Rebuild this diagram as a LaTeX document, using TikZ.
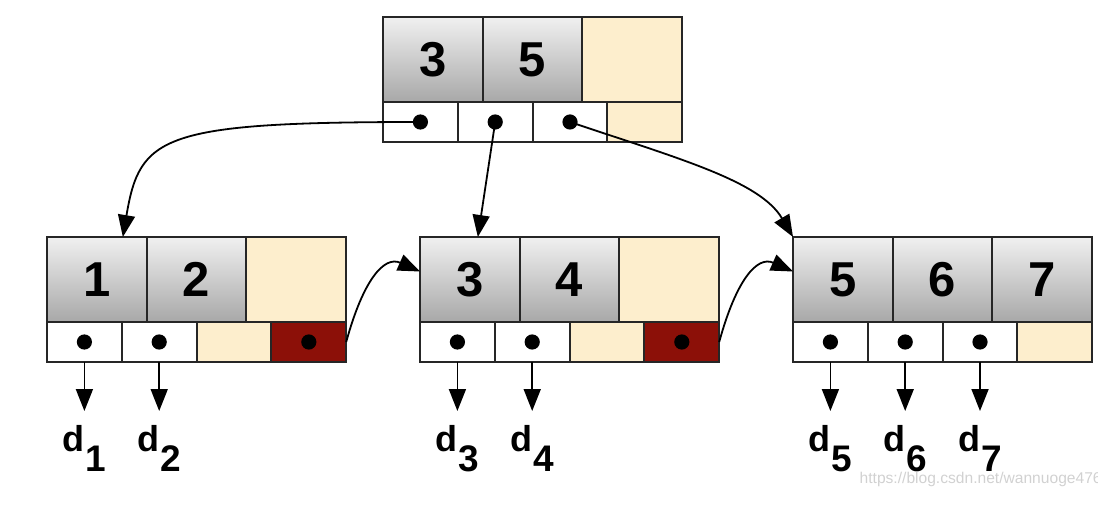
\documentclass[tikz,border=0pt]{standalone}
\usepackage{fontspec}
\setmainfont{Liberation Sans}
\usetikzlibrary{arrows.meta, positioning}

\definecolor{cellcream}{RGB}{253,238,205}
\definecolor{cellred}{RGB}{140,16,8}
\definecolor{shadetop}{RGB}{240,240,240}
\definecolor{shadebot}{RGB}{168,168,168}

\begin{document}
\begin{tikzpicture}[
    x=0.5pt, y=-0.5pt,
    every node/.style={outer sep=0pt},
    cellbase/.style={draw=black!85, line width=1pt, inner sep=0pt},
    keycell/.style={cellbase, minimum width=49.85pt, minimum height=42.5pt,
        top color=shadetop, bottom color=shadebot,
        font=\bfseries\fontsize{24.5}{24.5}\selectfont},
    emptykey/.style={cellbase, minimum width=49.85pt, minimum height=42.5pt, fill=cellcream},
    ptrcell/.style={cellbase, minimum width=37.4pt, minimum height=20pt, fill=white},
    emptyptr/.style={ptrcell, fill=cellcream},
    nextptr/.style={ptrcell, fill=cellred},
    dot/.style={circle, fill=black, inner sep=0pt, minimum size=7.6pt},
    ptr/.style={-{Triangle[length=11pt, width=8.5pt]}, line width=0.9pt},
    dlabel/.style={inner xsep=0pt, inner ysep=7pt, font=\bfseries\fontsize{18}{18}\selectfont}
]
\useasboundingbox (0,0) rectangle (1098,513);

% root: keys 3 5
\node[keycell] (r-k1) at (432.85,59.5) {3};
\node[keycell, right=0pt of r-k1] (r-k2) {5};
\node[emptykey, right=0pt of r-k2] (r-k3) {};
\node[ptrcell, anchor=north west] (r-p1) at (r-k1.south west) {};
\node[ptrcell, right=0pt of r-p1] (r-p2) {};
\node[ptrcell, right=0pt of r-p2] (r-p3) {};
\node[emptyptr, right=0pt of r-p3] (r-p4) {};

% leaf 1 2
\node[keycell] (a-k1) at (96.85,279.5) {1};
\node[keycell, right=0pt of a-k1] (a-k2) {2};
\node[emptykey, right=0pt of a-k2] (a-k3) {};
\node[ptrcell, anchor=north west] (a-p1) at (a-k1.south west) {};
\node[ptrcell, right=0pt of a-p1] (a-p2) {};
\node[emptyptr, right=0pt of a-p2] (a-p3) {};
\node[nextptr, right=0pt of a-p3] (a-p4) {};

% leaf 3 4
\node[keycell] (b-k1) at (469.85,279.5) {3};
\node[keycell, right=0pt of b-k1] (b-k2) {4};
\node[emptykey, right=0pt of b-k2] (b-k3) {};
\node[ptrcell, anchor=north west] (b-p1) at (b-k1.south west) {};
\node[ptrcell, right=0pt of b-p1] (b-p2) {};
\node[emptyptr, right=0pt of b-p2] (b-p3) {};
\node[nextptr, right=0pt of b-p3] (b-p4) {};

% leaf 5 6 7
\node[keycell] (c-k1) at (842.85,279.5) {5};
\node[keycell, right=0pt of c-k1] (c-k2) {6};
\node[keycell, right=0pt of c-k2] (c-k3) {7};
\node[ptrcell, anchor=north west] (c-p1) at (c-k1.south west) {};
\node[ptrcell, right=0pt of c-p1] (c-p2) {};
\node[ptrcell, right=0pt of c-p2] (c-p3) {};
\node[emptyptr, right=0pt of c-p3] (c-p4) {};

% pointer dots
\foreach \n in {r-p1,r-p2,r-p3,a-p1,a-p2,a-p4,b-p1,b-p2,b-p4,c-p1,c-p2,c-p3}
  \node[dot] (\n-dot) at (\n) {};

% data labels
\foreach \n/\i in {a-p1/1,a-p2/2,b-p1/3,b-p2/4,c-p1/5,c-p2/6,c-p3/7} {
  \node[dlabel, below=24.5pt of \n] (d\i)
    {d\kern0.5pt\raisebox{-10pt}{\fontsize{18.5}{18.5}\selectfont\i}};
  \draw[ptr] (\n.south) -- (d\i.north);
}

% root to leaves
\draw[ptr] (r-p1-dot.center) .. controls +(-260,0) and +(17,-101) .. ([xshift=13pt]a-k1.north);
\draw[ptr] (r-p2-dot.center) -- ([xshift=4pt]b-k1.north);
\draw[ptr] (r-p3-dot.center) .. controls +(110,37) and +(-33,-56) .. (c-k1.north west);

% leaf links
\draw[ptr] (a-p4.east) .. controls +(17,-62) and +(-36,-16) .. ([yshift=4pt]b-k1.west);
\draw[ptr] (b-p4.east) .. controls +(17,-62) and +(-36,-16) .. ([yshift=4pt]c-k1.west);

\node[anchor=base west, text=black!18, font=\fontsize{7.8}{7.8}\selectfont] (wmark)
  at (853,483) {https://blog.csdn.net/wannuoge4766};
\end{tikzpicture}
\end{document}
